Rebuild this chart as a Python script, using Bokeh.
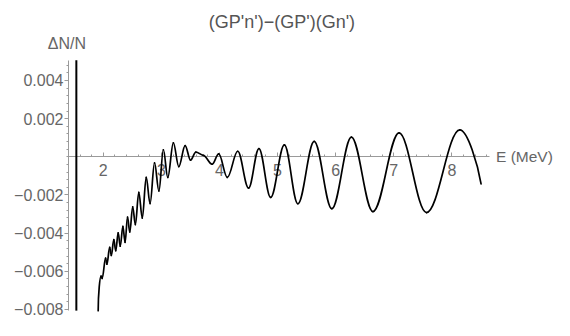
import numpy as np
from bokeh.plotting import figure
from bokeh.models import ColumnDataSource, FixedTicker, Label, Range1d, CustomJSTickFormatter
from bokeh.embed import file_html
from bokeh.resources import INLINE

# ---- data (successive turning points of the curve) ----
energy = [1.912, 1.961, 1.981, 2.039, 2.062, 2.110, 2.138, 2.181, 2.214, 2.256,
          2.292, 2.337, 2.375, 2.417, 2.456, 2.506, 2.552, 2.611, 2.671, 2.739,
          2.805, 2.882, 2.957, 3.034, 3.110, 3.206, 3.299, 3.409, 3.501, 3.594,
          3.721, 3.873, 3.987, 4.134, 4.314, 4.500, 4.679, 4.881, 5.117, 5.349,
          5.630, 5.934, 6.271, 6.642, 7.091, 7.563, 8.137, 8.503]
dn_over_n = [-0.00806, -0.00625, -0.00637, -0.00531, -0.00563, -0.00475, -0.00517, -0.00434,
             -0.00492, -0.00399, -0.00468, -0.00365, -0.00448, -0.00316, -0.00394, -0.00262,
             -0.00355, -0.00186, -0.00321, -0.00108, -0.00245, -0.00032, -0.00179, 0.00037,
             -0.00108, 0.00073, -0.00051, 0.00059, -0.00017, 0.00025, 0.00008, -0.00039,
             0.00015, -0.00108, 0.00029, -0.00164, 0.00043, -0.00213, 0.00062, -0.00246,
             0.00081, -0.00272, 0.00103, -0.00287, 0.00125, -0.00292, 0.00141, -0.00142]
pole_energy = 1.536
plot_y_limits = [-0.00806, 0.00506]
axis_x_limits = [1.4, 8.64]

x_ticks = [2, 3, 4, 5, 6, 7, 8]
y_ticks = [-0.008, -0.006, -0.004, -0.002, 0.002, 0.004]
title_text = "(GP'n')\u2212(GP')(Gn')"
y_label_text = "\u0394N/N"
x_label_text = "E (MeV)"

FONT = "Liberation Sans"
TXT = "#666666"
AX = "#9a9a9a"

p = figure(width=554, height=320, output_backend="svg", toolbar_location=None,
           title=None, x_range=Range1d(0.2303, 9.7672), y_range=Range1d(-0.008577, 0.008190))
p.min_border = 0
p.outline_line_color = None
p.grid.visible = False
p.background_fill_color = "white"
p.border_fill_color = "white"

# x axis across y = 0
xa = p.xaxis[0]
xa.fixed_location = 0
xa.bounds = tuple(axis_x_limits)
xa.ticker = FixedTicker(ticks=x_ticks,
                        minor_ticks=list(np.round(np.arange(1.4, 8.61, 0.2), 3)))
xa.axis_line_color = AX
xa.major_tick_line_color = AX
xa.minor_tick_line_color = AX
xa.major_tick_in = 4
xa.major_tick_out = 0
xa.minor_tick_in = 2
xa.minor_tick_out = 0
xa.major_label_standoff = 7
xa.major_label_text_font = FONT
xa.major_label_text_font_size = "16px"
xa.major_label_text_color = TXT

# y axis at E = 1.4
ya = p.yaxis[0]
ya.fixed_location = axis_x_limits[0]
ya.bounds = tuple(plot_y_limits)
ya.ticker = FixedTicker(ticks=y_ticks,
                        minor_ticks=list(np.round(np.arange(-0.008, 0.00481, 0.0004), 5)))
ya.formatter = CustomJSTickFormatter(
    code="return (tick < 0 ? '\\u2212' : '') + Math.abs(tick).toFixed(3);")
ya.axis_line_color = AX
ya.major_tick_line_color = AX
ya.minor_tick_line_color = AX
ya.major_tick_in = 0
ya.major_tick_out = 4
ya.minor_tick_in = 0
ya.minor_tick_out = 2
ya.major_label_standoff = 1
ya.major_label_text_font = FONT
ya.major_label_text_font_size = "16px"
ya.major_label_text_color = TXT

# pole line
pole = p.segment(x0=[pole_energy], y0=[plot_y_limits[0]], x1=[pole_energy], y1=[plot_y_limits[1]],
                 line_color="black", line_width=2)
pole.level = "overlay"

# curve: smooth cubic pieces between successive turning points
E = np.array(energy)
V = np.array(dn_over_n)
x0, x1 = E[:-1], E[1:]
y0, y1 = V[:-1], V[1:]
dx = x1 - x0
k = 0.364
cx0 = x0 + k * dx
cy0 = y0.copy()
cx1 = x1 - k * dx
cy1 = y1.copy()
cx0[0] = x0[0]
cy0[0] = y0[0] + 0.5 * (y1[0] - y0[0])
cx1[-1] = x1[-1] - 0.15 * dx[-1]
cy1[-1] = y1[-1] + 0.35 * (y0[-1] - y1[-1])
src = ColumnDataSource(dict(x0=x0, y0=y0, x1=x1, y1=y1, cx0=cx0, cy0=cy0, cx1=cx1, cy1=cy1))
curve = p.bezier(x0="x0", y0="y0", x1="x1", y1="y1", cx0="cx0", cy0="cy0", cx1="cx1", cy1="cy1",
                 source=src, line_color="black", line_width=1.7, line_cap="round")
curve.level = "overlay"

# texts
p.add_layout(Label(x=5.076, y=0.007063, text=title_text, text_align="center",
                   text_baseline="middle", text_font=FONT, text_font_size="18px",
                   text_color="#555555"))
p.add_layout(Label(x=1.375, y=0.005911, text=y_label_text, text_align="center",
                   text_baseline="middle", text_font=FONT, text_font_size="16px",
                   text_color=TXT))
p.add_layout(Label(x=8.760, y=0.0, text=x_label_text, text_align="left",
                   text_baseline="middle", text_font=FONT, text_font_size="15.5px",
                   text_color=TXT))

open("out.html", "w").write(file_html(p, INLINE))
